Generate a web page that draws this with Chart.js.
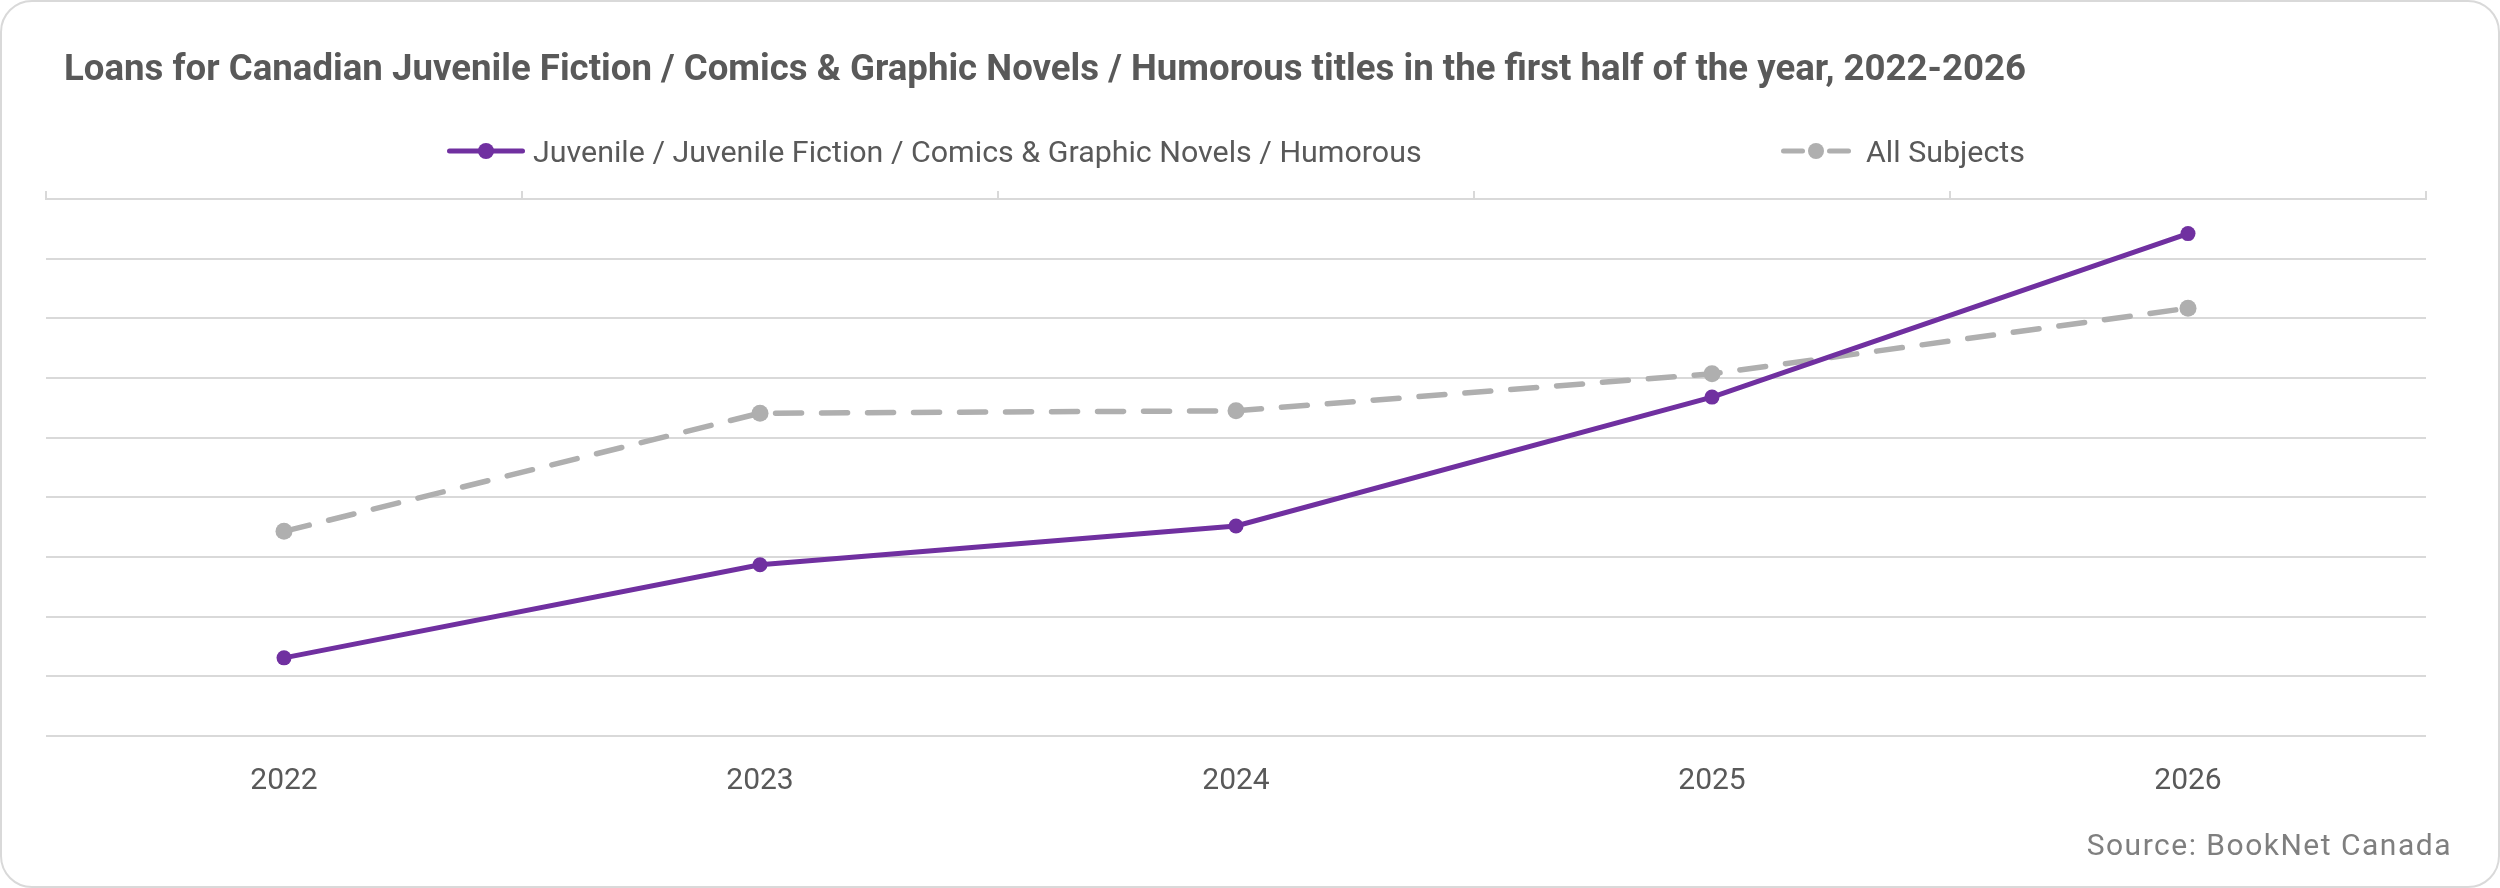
<!DOCTYPE html>
<html>
<head>
<meta charset="utf-8">
<script src="https://cdn.jsdelivr.net/npm/chart.js@4.4.1/dist/chart.umd.min.js"></script>
<style>
  html, body { margin: 0; padding: 0; background: #fff; }
  body { width: 2500px; height: 888px; position: relative; overflow: hidden; }
  #card { position: absolute; left: 0; top: 0; width: 2500px; height: 888px; box-sizing: border-box;
          border: 2px solid #d9d9d9; border-radius: 32px; }
  #graph { position: absolute; left: 0; top: 0; }
  #title { position: absolute; left: 64px; top: 46px; margin: 0; line-height: 44px; white-space: nowrap; width: max-content;
           font: bold 37px Roboto, sans-serif; color: #595959; transform-origin: left center; }
  .legend-item { position: absolute; top: 133px; height: 36px; display: flex; align-items: center; white-space: nowrap;
                 font: 30.4px Roboto, sans-serif; color: #595959; }
  .legend-item svg { display: block; }
  #source { position: absolute; right: 48px; top: 827px; line-height: 36px; white-space: nowrap;
            font: 30px Roboto, sans-serif; letter-spacing: 1.5px; color: #7f7f7f; }
</style>
</head>
<body>
<div id="card"></div>
<canvas id="graph" width="2500" height="888"></canvas>
<h1 id="title">Loans for Canadian Juvenile Fiction / Comics &amp; Graphic Novels / Humorous titles in the first half of the year, 2022-2026</h1>
<div id="legend"></div>
<div id="source">Source: BookNet Canada</div>
<script>
const years = ['2022', '2023', '2024', '2025', '2026']
const humorousLoans = [1.31, 2.87, 3.52, 5.68, 8.42]
const allSubjectsLoans = [3.43, 5.41, 5.45, 6.07, 7.17]
const seriesNames = ['Juvenile / Juvenile Fiction / Comics & Graphic Novels / Humorous', 'All Subjects']

const purple = '#7030a0'
const grey = '#afafaf'
const gridColor = '#d9d9d9'

document.addEventListener('DOMContentLoaded', function() {

  // the original title uses a narrow bold face, squeeze Roboto to the same width
  const title = document.getElementById('title')
  const titleWidth = title.getBoundingClientRect().width
  title.style.transform = 'scaleX(' + (1962 / titleWidth) + ')'

  let graph = new Chart(
    document.getElementById('graph'),
    {
      type: 'line',
      data: {
        labels: years,
        datasets: [
          {
            label: seriesNames[0],
            data: humorousLoans,
            borderColor: purple,
            backgroundColor: purple,
            borderWidth: 5,
            borderCapStyle: 'round',
            pointRadius: 7.5,
            pointBorderWidth: 0,
          },
          {
            label: seriesNames[1],
            data: allSubjectsLoans,
            borderColor: grey,
            backgroundColor: grey,
            borderWidth: 5.5,
            borderDash: [26, 20],
            borderCapStyle: 'round',
            pointRadius: 8.5,
            pointBorderWidth: 0,
          },
        ]
      },
      options: {
        responsive: false,
        animation: false,
        layout: { padding: { left: 46, right: 74, top: 191, bottom: 62 } },
        plugins: {
          legend: { display: false },
          tooltip: { enabled: false },
        },
        scales: {
          x: {
            position: 'bottom',
            offset: true,
            grid: { display: false, drawTicks: false },
            border: { display: false },
            ticks: { color: '#595959', font: { family: 'Roboto', size: 30 }, padding: 27 },
          },
          // the category axis line sits at the top of the plot, ticks pointing up
          xTop: {
            type: 'category',
            position: 'top',
            offset: true,
            grid: { offset: true, drawOnChartArea: false, drawTicks: true, tickLength: 8, color: gridColor, lineWidth: 2 },
            border: { display: true, color: gridColor, width: 2 },
            ticks: { display: false },
          },
          y: {
            min: 0,
            max: 9,
            ticks: { display: false, stepSize: 1 },
            grid: { color: gridColor, lineWidth: 2, drawTicks: false },
            border: { display: false },
          },
        }
      }
    }
  )

  // html legend built from the datasets
  const legendLeft = [447, 1781]
  const legend = document.getElementById('legend')
  graph.data.datasets.forEach((ds, i) => {
    const item = document.createElement('div')
    item.className = 'legend-item'
    item.style.left = legendLeft[i] + 'px'
    const dashed = !!ds.borderDash
    const w = dashed ? 70 : 78
    const cx = w / 2
    let lines
    if (dashed) {
      lines = `<line x1="2.5" y1="12" x2="21.5" y2="12" stroke="${ds.borderColor}" stroke-width="5" stroke-linecap="round"/>` +
              `<line x1="${w - 21.5}" y1="12" x2="${w - 2.5}" y2="12" stroke="${ds.borderColor}" stroke-width="5" stroke-linecap="round"/>`
    } else {
      lines = `<line x1="2.5" y1="12" x2="${w - 2.5}" y2="12" stroke="${ds.borderColor}" stroke-width="5" stroke-linecap="round"/>`
    }
    item.innerHTML = `<svg width="${w}" height="24">${lines}<circle cx="${cx}" cy="12" r="8" fill="${ds.borderColor}"/></svg>` +
                     `<span style="margin-left:${dashed ? 15 : 8}px">${ds.label.replace(/&/g, '&amp;')}</span>`
    legend.appendChild(item)
  })

})
</script>
</body>
</html>
